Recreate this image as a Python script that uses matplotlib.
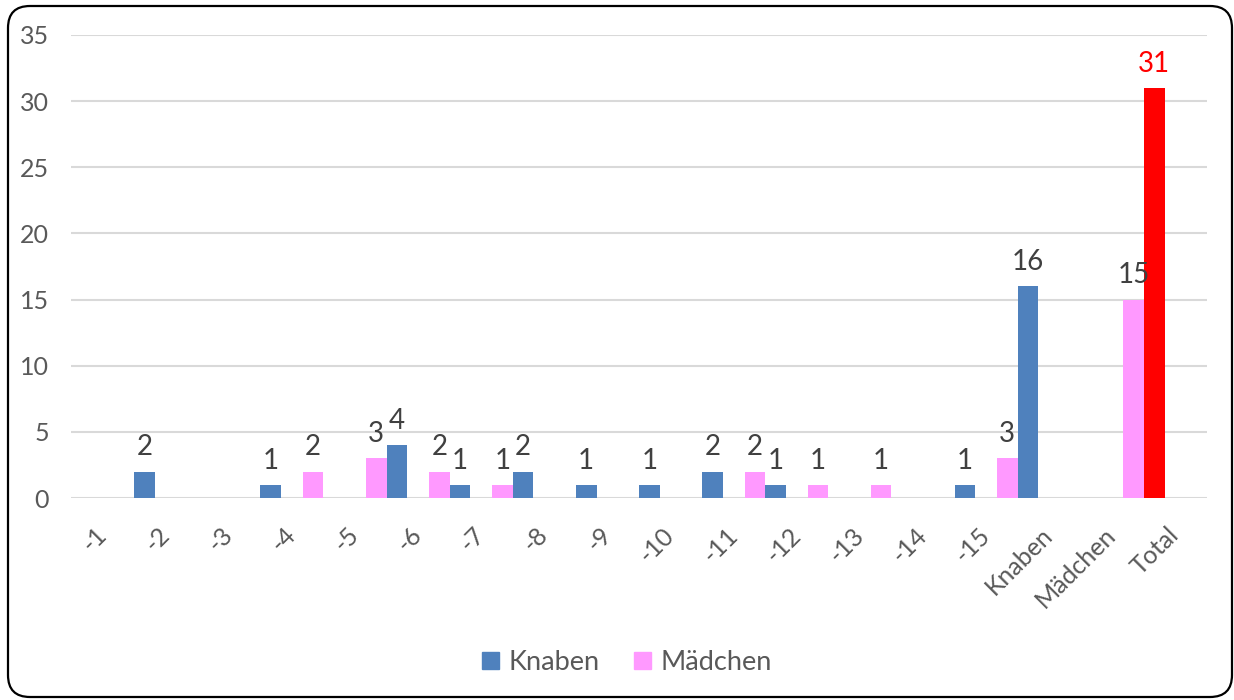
import numpy as np
import matplotlib.pyplot as plt
from matplotlib.patches import FancyBboxPatch, Patch
from matplotlib.transforms import IdentityTransform

plt.rcParams["font.family"] = ["Lato", "DejaVu Sans"]

# --- data ---
categories = ["-1", "-2", "-3", "-4", "-5", "-6", "-7", "-8", "-9", "-10",
              "-11", "-12", "-13", "-14", "-15", "Knaben", "Mädchen", "Total"]
knaben = [0, 2, 0, 1, 0, 4, 1, 2, 1, 1, 2, 1, 0, 0, 1, 16, 0, 31]
maedchen = [0, 0, 0, 0, 2, 3, 2, 1, 0, 0, 0, 2, 1, 1, 0, 3, 0, 15]

BLUE = "#4F81BD"
PINK = "#FF99FF"
RED = "#FF0000"
GRID = "#D9D9D9"
TXT = "#595959"
LBL = "#404040"

fig = plt.figure(figsize=(12.34, 7), dpi=100)
ax = fig.add_axes([71 / 1234, 1 - 498 / 700, (1207 - 71) / 1234, (498 - 35) / 700])

x = np.arange(len(categories))
slot = x - 0.5          # bars sit on the category boundaries in the original
w = 0.328

k_colors = [RED if c == "Total" else BLUE for c in categories]
bars_m = ax.bar(slot - w / 2, maedchen, width=w, color=PINK, zorder=3)
bars_k = ax.bar(slot + w / 2, knaben, width=w, color=k_colors, zorder=3)

for bars, vals, cols in [(bars_m, maedchen, [LBL] * len(maedchen)),
                         (bars_k, knaben, [RED if c == RED else LBL for c in k_colors])]:
    for b, v, c in zip(bars, vals, cols):
        if v == 0:
            continue
        ax.annotate(str(v), (b.get_x() + b.get_width() / 2, v),
                    xytext=(0, 8), textcoords="offset points",
                    ha="center", va="bottom", fontsize=20, color=c)

ax.set_xlim(-0.5, len(categories) - 0.5)
ax.set_ylim(0, 35)
ax.set_yticks(range(0, 36, 5))
ax.yaxis.grid(True, color=GRID, linewidth=1.5, zorder=0)
for s in ax.spines.values():
    s.set_visible(False)
ax.tick_params(axis="both", length=0, labelsize=18, labelcolor=TXT)
ax.tick_params(axis="y", pad=16)
ax.set_xticks(x)
ax.set_xticklabels(categories, rotation=45, ha="right", va="center",
                   rotation_mode="anchor")
ax.tick_params(axis="x", pad=24)

handles = [Patch(color=BLUE, label="Knaben"), Patch(color=PINK, label="Mädchen")]
fig.legend(handles=handles, loc="center", bbox_to_anchor=(0.508, 0.053), ncol=2,
           frameon=False, fontsize=19.5, labelcolor=TXT, handlelength=0.6,
           handleheight=0.6, handletextpad=0.35, columnspacing=1.3)

border = FancyBboxPatch((8, 3), 1224, 691, boxstyle="round,pad=0,rounding_size=22",
                        transform=IdentityTransform(), fill=False,
                        edgecolor="black", linewidth=1.6)
fig.patches.append(border)

fig.savefig("out.png", dpi=100)
